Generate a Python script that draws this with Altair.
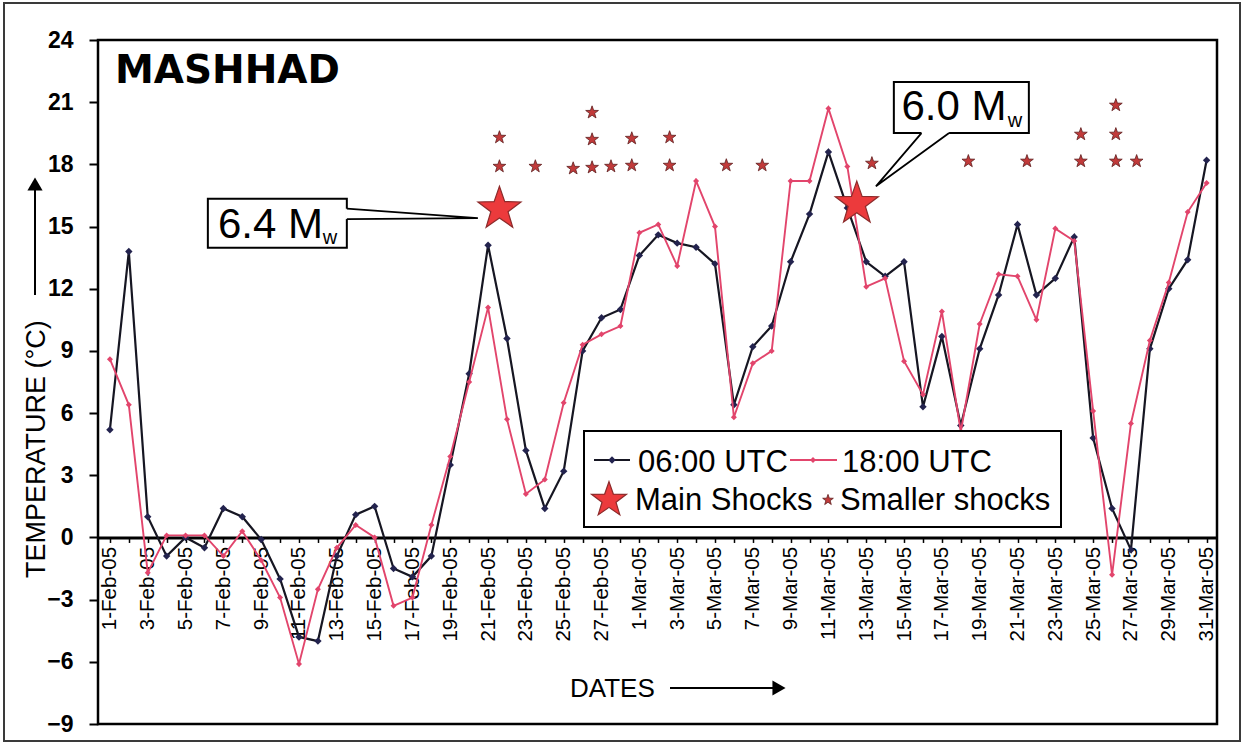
import json
import altair as alt
import pandas as pd

FONT = "Liberation Sans"

# ---- data -----------------------------------------------------------------
date_labels = [f"{d}-Feb-05" for d in range(1, 29)] + [f"{d}-Mar-05" for d in range(1, 32)]

temp_0600 = [
    5.2, 13.8, 1.0, -0.9, 0.0, -0.5, 1.4, 1.0, -0.1, -2.0,
    -4.8, -5.0, -0.9, 1.1, 1.5, -1.5, -1.9, -0.9, 3.5, 7.9,
    14.1, 9.6, 4.2, 1.4, 3.2, 9.0, 10.6, 11.0,
    13.6, 14.6, 14.2, 14.0, 13.2, 6.4, 9.2, 10.2, 13.3, 15.6,
    18.6, 15.9, 13.3, 12.6, 13.3, 6.3, 9.7, 5.4, 9.1, 11.7,
    15.1, 11.7, 12.5, 14.5, 4.8, 1.4, -0.6, 9.1, 12.0, 13.4, 18.2,
]

temp_1800 = [
    8.6, 6.4, -1.7, 0.1, 0.1, 0.1, -0.9, 0.3, -1.1, -2.9,
    -6.1, -2.5, -0.5, 0.6, 0.0, -3.3, -2.9, 0.6, 3.9, 7.5,
    11.1, 5.7, 2.1, 2.8, 6.5, 9.3, 9.8, 10.2,
    14.7, 15.1, 13.1, 17.2, 15.0, 5.8, 8.4, 9.0, 17.2, 17.2,
    20.7, 17.9, 12.1, 12.5, 8.5, 6.9, 10.9, 5.1, 10.3, 12.7,
    12.6, 10.5, 14.9, 14.3, 6.1, -1.8, 5.5, 9.5, 12.3, 15.7, 17.1,
]

# main shocks (day position, marker level, magnitude)
main_day = [20.6, 39.5]
main_level = [15.85, 16.1]
main_mag = ["6.4", "6.0"]

# smaller shocks (day position, marker level)
small_day = [20.6, 20.6, 22.5, 24.5, 25.5, 25.5, 25.5, 26.5, 27.6, 27.6,
             29.6, 29.6, 32.6, 34.5, 40.3, 45.4, 48.5, 51.35, 51.35,
             53.2, 53.2, 53.2, 54.3]
small_level = [17.9, 19.3, 17.9, 17.8, 17.85, 19.2, 20.5, 17.9, 17.95, 19.25,
               17.95, 19.3, 17.95, 17.95, 18.05, 18.15, 18.15, 18.15, 19.45,
               18.15, 19.45, 20.85, 18.15]

series_names = ["06:00 UTC", "18:00 UTC"]

# ---- tables -----------------------------------------------------------------
days = list(range(len(date_labels)))
obs = pd.concat([
    pd.DataFrame({"day": days, "label": date_labels, "series": series_names[0], "temp": temp_0600}),
    pd.DataFrame({"day": days, "label": date_labels, "series": series_names[1], "temp": temp_1800}),
])
main_df = pd.DataFrame({"day": main_day, "temp": main_level, "mag": main_mag})
small_df = pd.DataFrame({"day": small_day, "temp": small_level})

# ---- scales / styles ------------------------------------------------------
W, H = 1119, 684
x_scale = alt.Scale(domain=[-0.63, 58.55], nice=False, zero=False)
y_scale = alt.Scale(domain=[-9, 24], nice=False, zero=False)
zero_offset = -H * 9 / 33  # x axis sits on the 0 degree line

STAR = ("M0,-1L0.2351,-0.3236L0.9511,-0.309L0.3804,0.1236L0.5878,0.809"
        "L0,0.4L-0.5878,0.809L-0.3804,0.1236L-0.9511,-0.309L-0.2351,-0.3236Z")

LINE_06 = "#161622"
MARK_06 = "#23234e"
LINE_18 = "#e2456c"
MAIN_FILL, MAIN_EDGE = "#ec3a3c", "#8c2b2b"
SMALL_FILL, SMALL_EDGE = "#c13a3a", "#5e1e1e"

label_js = json.dumps(date_labels)
x_axis = alt.Axis(
    values=days,
    labelExpr=f"datum.value % 2 === 0 ? {label_js}[datum.value] : ''",
    labelAngle=270, labelAlign="right", labelBaseline="middle",
    labelFont=FONT, labelFontSize=20.5, labelColor="black",
    labelOverlap=False, labelFlush=False, labelBound=False, labelPadding=4,
    tickSize=5, tickWidth=1.5, tickColor="black",
    domainColor="black", domainWidth=3,
    offset=zero_offset, grid=False, title=None,
)
y_axis = alt.Axis(
    values=list(range(-9, 25, 3)),
    labelFont=FONT, labelFontWeight="bold", labelFontSize=23, labelColor="black",
    labelPadding=16, tickSize=9, tickWidth=2, tickColor="black",
    domain=False, grid=False, title=None,
)


def X(field):
    return alt.X(f"{field}:Q", scale=x_scale, axis=x_axis)


def Y(field):
    return alt.Y(f"{field}:Q", scale=y_scale, axis=y_axis)


base = alt.Chart(obs)
s06 = base.transform_filter(alt.datum.series == series_names[0])
s18 = base.transform_filter(alt.datum.series == series_names[1])

line06 = s06.mark_line(color=LINE_06, strokeWidth=2.2).encode(x=X("day"), y=Y("temp"))
pts06 = s06.mark_point(shape="diamond", filled=True, size=55, color=MARK_06,
                       opacity=1).encode(x=X("day"), y=Y("temp"))
line18 = s18.mark_line(color=LINE_18, strokeWidth=1.9).encode(x=X("day"), y=Y("temp"))
pts18 = s18.mark_point(shape="diamond", filled=True, size=36, color=LINE_18,
                       opacity=1).encode(x=X("day"), y=Y("temp"))

small_stars = alt.Chart(small_df).mark_point(
    shape=STAR, filled=True, size=180, fill=SMALL_FILL, stroke=SMALL_EDGE,
    strokeWidth=0.8, opacity=1).encode(x=X("day"), y=Y("temp"))
main_stars = alt.Chart(main_df).mark_point(
    shape=STAR, filled=True, size=2045, fill=MAIN_FILL, stroke=MAIN_EDGE,
    strokeWidth=1.2, opacity=1).encode(x=X("day"), y=Y("temp"))

# ---- magnitude call-outs (in data units) -------------------------------------
boxes = pd.DataFrame({
    "day": [5.18, 41.46], "day2": [12.53, 48.6],
    "temp": [13.98, 19.51], "temp2": [16.34, 21.97],
})
box_layer = alt.Chart(boxes).mark_rect(
    fill="white", stroke="black", strokeWidth=2).encode(
    x=X("day"), x2="day2:Q", y=Y("temp"), y2="temp2:Q")

gaps = pd.DataFrame({
    "day": [12.53, 42.92], "day2": [12.53, 44.38],
    "temp": [15.86, 19.51], "temp2": [15.36, 19.51],
})
gap_layer = alt.Chart(gaps).mark_rule(color="white", strokeWidth=3.5).encode(
    x=X("day"), x2="day2:Q", y=Y("temp"), y2="temp2:Q")

wedges = pd.DataFrame({
    "callout": ["a", "a", "a", "b", "b", "b"],
    "k": [0, 1, 2, 0, 1, 2],
    "day": [12.53, 19.46, 12.53, 42.92, 40.51, 44.38],
    "temp": [15.86, 15.41, 15.36, 19.51, 16.94, 19.51],
})
wedge_layer = alt.Chart(wedges).mark_line(color="black", strokeWidth=1.8).encode(
    x=X("day"), y=Y("temp"), detail="callout:N", order="k:Q")

mag_text = pd.DataFrame({
    "day": [5.71, 41.86], "temp": [14.46, 20.15], "txt": [m + " M" for m in main_mag],
})
mag_layer = alt.Chart(mag_text).mark_text(
    font=FONT, fontSize=42, align="left", baseline="alphabetic", color="black").encode(
    x=X("day"), y=Y("temp"), text="txt:N")
sub_text = pd.DataFrame({"day": [11.26, 47.49], "temp": [14.16, 19.8], "s": ["w", "w"]})
sub_layer = alt.Chart(sub_text).mark_text(
    font=FONT, fontSize=20, align="left", baseline="alphabetic", color="black").encode(
    x=X("day"), y=Y("temp"), text="s:N")

# ---- decorations (pixel positions relative to the plot area) -------------------
one = pd.DataFrame({"k": [0]})


def txt(s, px, py, size, weight="normal", angle=0, font=FONT):
    return alt.Chart(one).mark_text(
        text=s, font=font, fontSize=size, fontWeight=weight, align="left",
        baseline="alphabetic", angle=angle, color="black").encode(
        x=alt.value(px), y=alt.value(py))


def rule(px, py, px2, py2, color="black", width=2.0):
    return alt.Chart(one).mark_rule(color=color, strokeWidth=width).encode(
        x=alt.value(px), y=alt.value(py), x2=alt.value(px2), y2=alt.value(py2))


def sym(shape, px, py, size, fill, stroke=None, sw=0.0):
    kw = dict(shape=shape, filled=True, size=size, fill=fill, opacity=1)
    if stroke:
        kw.update(stroke=stroke, strokeWidth=sw)
    return alt.Chart(one).mark_point(**kw).encode(x=alt.value(px), y=alt.value(py))


outer_frame = alt.Chart(one).mark_rect(fill=None, stroke="#3a3a3a", strokeWidth=2).encode(
    x=alt.value(-94), x2=alt.value(1142), y=alt.value(-37), y2=alt.value(701))

legend_box = alt.Chart(one).mark_rect(fill="white", stroke="black", strokeWidth=2).encode(
    x=alt.value(486), x2=alt.value(963), y=alt.value(391), y2=alt.value(487))

legend = [
    legend_box,
    rule(496, 420, 532, 420, LINE_06, 2.2), sym("diamond", 514, 420, 55, MARK_06),
    txt(series_names[0], 540, 432, 31),
    rule(692, 420, 739, 420, LINE_18, 1.9), sym("diamond", 715, 420, 36, LINE_18),
    txt(series_names[1], 744, 432, 31),
    sym(STAR, 511, 460, 1354, MAIN_FILL, MAIN_EDGE, 1.2),
    txt("Main Shocks", 537, 470, 31),
    sym(STAR, 730, 460, 126, SMALL_FILL, SMALL_EDGE, 0.8),
    txt("Smaller shocks", 742, 470, 31),
]

titles = [
    txt("MASHHAD", 17, 43, 39, weight="bold", font="DejaVu Sans"),
    txt("DATES", 472, 657, 26),
    rule(572, 648, 675, 648, "black", 2),
    sym("triangle-right", 681, 648, 230, "black"),
    txt("TEMPERATURE (°C)", -53, 538, 27, angle=270),
    rule(-63, 255, -63, 150, "black", 2),
    sym("triangle-up", -63, 144, 230, "black"),
]

chart = alt.layer(
    outer_frame,
    line06, pts06, line18, pts18,
    small_stars, main_stars,
    box_layer, gap_layer, wedge_layer, mag_layer, sub_layer,
    *legend, *titles,
).properties(
    width=W, height=H,
    autosize=alt.AutoSizeParams(type="none"),
    padding={"left": 98, "top": 40, "right": 30, "bottom": 23},
    background="white",
).configure_view(stroke="black", strokeWidth=2.5)

chart.save("out.html", embed_options={"renderer": "svg", "actions": False})
